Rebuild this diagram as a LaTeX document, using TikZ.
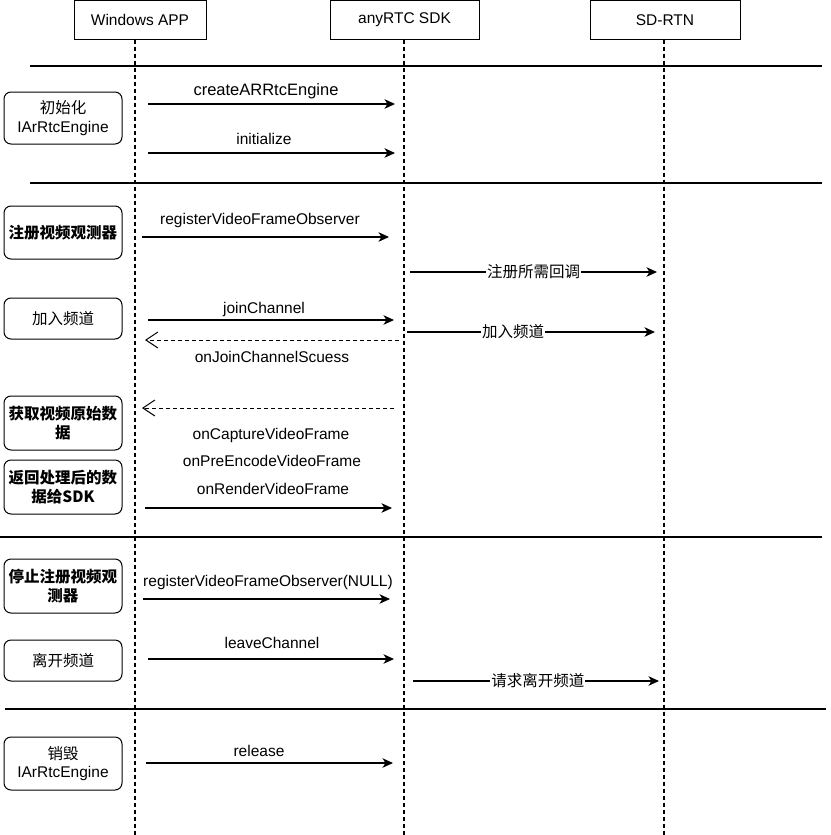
\documentclass[tikz,border=0pt]{standalone}
\usepackage{fontspec}
\setmainfont{Liberation Sans}
\newfontfamily\cjk{Noto Sans CJK SC}
\usetikzlibrary{arrows.meta}
\begin{document}
\begin{tikzpicture}[x=1pt,y=-1pt,
  every node/.style={font=\fontsize{15.5}{18.5}\selectfont, inner sep=0pt},
  head/.style={draw, line width=1pt, minimum width=#1, minimum height=39pt},
  actbox/.style={draw, line width=1pt, rounded corners=7pt, minimum width=118pt, minimum height=#1, align=center},
  boldtxt/.style={font=\fontsize{15.5}{18.5}\selectfont\cjk\bfseries},
  life/.style={line width=1.1pt, dash pattern=on 4pt off 3pt},
  sep/.style={line width=1.1pt},
  msg/.style={line width=1.1pt, -{Stealth[length=10.5pt,width=9.5pt,inset=3pt]}},
  reply/.style={line width=1pt, dash pattern=on 4pt off 3pt, -{Straight Barb[length=12pt,width=16pt,line width=1pt]}},
  onl/.style={fill=white, inner sep=1pt}
]
\useasboundingbox (0,0) rectangle (830,835);
% headers
\node[head=132pt] (app) at (140,20) {Windows APP};
\node[head=149pt] (sdk) at (404.5,20) {anyRTC SDK};
\node[head=150pt] (rtn) at (665,20) {SD-RTN};
% lifelines
\coordinate (appT) at (135,39.5); \coordinate (appB) at (135,835);
\coordinate (sdkT) at (404,39.5); \coordinate (sdkB) at (404,835);
\coordinate (rtnT) at (664,39.5); \coordinate (rtnB) at (664,835);
\draw[life] (appT) -- (appB);
\draw[life] (sdkT) -- (sdkB);
\draw[life] (rtnT) -- (rtnB);
% separators
\coordinate (s1a) at (30,66); \coordinate (s1b) at (822,66);
\coordinate (s2a) at (30,183); \coordinate (s2b) at (822,183);
\coordinate (s3a) at (0,537); \coordinate (s3b) at (822,537);
\coordinate (s4a) at (5,709); \coordinate (s4b) at (826,709);
\draw[sep] (s1a) -- (s1b);
\draw[sep] (s2a) -- (s2b);
\draw[sep] (s3a) -- (s3b);
\draw[sep] (s4a) -- (s4b);
% activity boxes
\node[actbox=52pt] (b1) at (63,118) {{\cjk 初始化}\\IArRtcEngine};
\node[actbox=53pt, boldtxt] (b2) at (63,232.5) {注册视频观测器};
\node[actbox=41pt] (b3) at (63,318.5) {\cjk 加入频道};
\node[actbox=54pt, boldtxt] (b4) at (63,423) {获取视频原始数\\据};
\node[actbox=54pt, boldtxt] (b5) at (63,487) {返回处理后的数\\据给SDK};
\node[actbox=54pt, boldtxt] (b6) at (63,586) {停止注册视频观\\测器};
\node[actbox=41pt] (b7) at (63,660.5) {\cjk 离开频道};
\node[actbox=53pt] (b8) at (63,763.5) {{\cjk 销毁}\\IArRtcEngine};
% messages
\coordinate (m1a) at (148,104); \coordinate (m1b) at (395,104);
\draw[msg] (m1a) -- (m1b);
\node[font=\fontsize{16.5}{19}\selectfont] (l1) at (266,91.5) {createARRtcEngine};
\coordinate (m2a) at (148,153); \coordinate (m2b) at (395,153);
\draw[msg] (m2a) -- (m2b);
\node (l2) at (264,138.5) {initialize};
\coordinate (m3a) at (142,237); \coordinate (m3b) at (389,237);
\draw[msg] (m3a) -- (m3b);
\node (l3) at (260,220) {registerVideoFrameObserver};
\coordinate (m4a) at (410,272); \coordinate (m4b) at (657,272);
\draw[msg] (m4a) -- (m4b) node[onl, pos=0.5, font=\fontsize{15.5}{18.5}\selectfont\cjk] (l4) {注册所需回调};
\coordinate (m5a) at (148,320); \coordinate (m5b) at (394,320);
\draw[msg] (m5a) -- (m5b);
\node (l5) at (264,309) {joinChannel};
\coordinate (m6a) at (407,332); \coordinate (m6b) at (655,332);
\draw[msg] (m6a) -- (m6b) node[onl, pos=0.428, font=\fontsize{15.5}{18.5}\selectfont\cjk] (l6) {加入频道};
\coordinate (m7a) at (399,340); \coordinate (m7b) at (145,340);
\draw[reply] (m7a) -- (m7b);
\node (l7) at (272,357) {onJoinChannelScuess};
\coordinate (m8a) at (394,408); \coordinate (m8b) at (142,408);
\draw[reply] (m8a) -- (m8b);
\node (l8a) at (271,435) {onCaptureVideoFrame};
\node (l8b) at (272,461) {onPreEncodeVideoFrame};
\node (l8c) at (273,489) {onRenderVideoFrame};
\coordinate (m9a) at (145,508); \coordinate (m9b) at (392,508);
\draw[msg] (m9a) -- (m9b);
\coordinate (m10a) at (143,599); \coordinate (m10b) at (390,599);
\draw[msg] (m10a) -- (m10b);
\node (l10) at (268,582) {registerVideoFrameObserver(NULL)};
\coordinate (m11a) at (148,659); \coordinate (m11b) at (394,659);
\draw[msg] (m11a) -- (m11b);
\node (l11) at (272,643) {leaveChannel};
\coordinate (m12a) at (413,681); \coordinate (m12b) at (659,681);
\draw[msg] (m12a) -- (m12b) node[onl, pos=0.508, font=\fontsize{15.5}{18.5}\selectfont\cjk] (l12) {请求离开频道};
\coordinate (m13a) at (146,763); \coordinate (m13b) at (393,763);
\draw[msg] (m13a) -- (m13b);
\node (l13) at (259,751) {release};
\end{tikzpicture}
\end{document}
